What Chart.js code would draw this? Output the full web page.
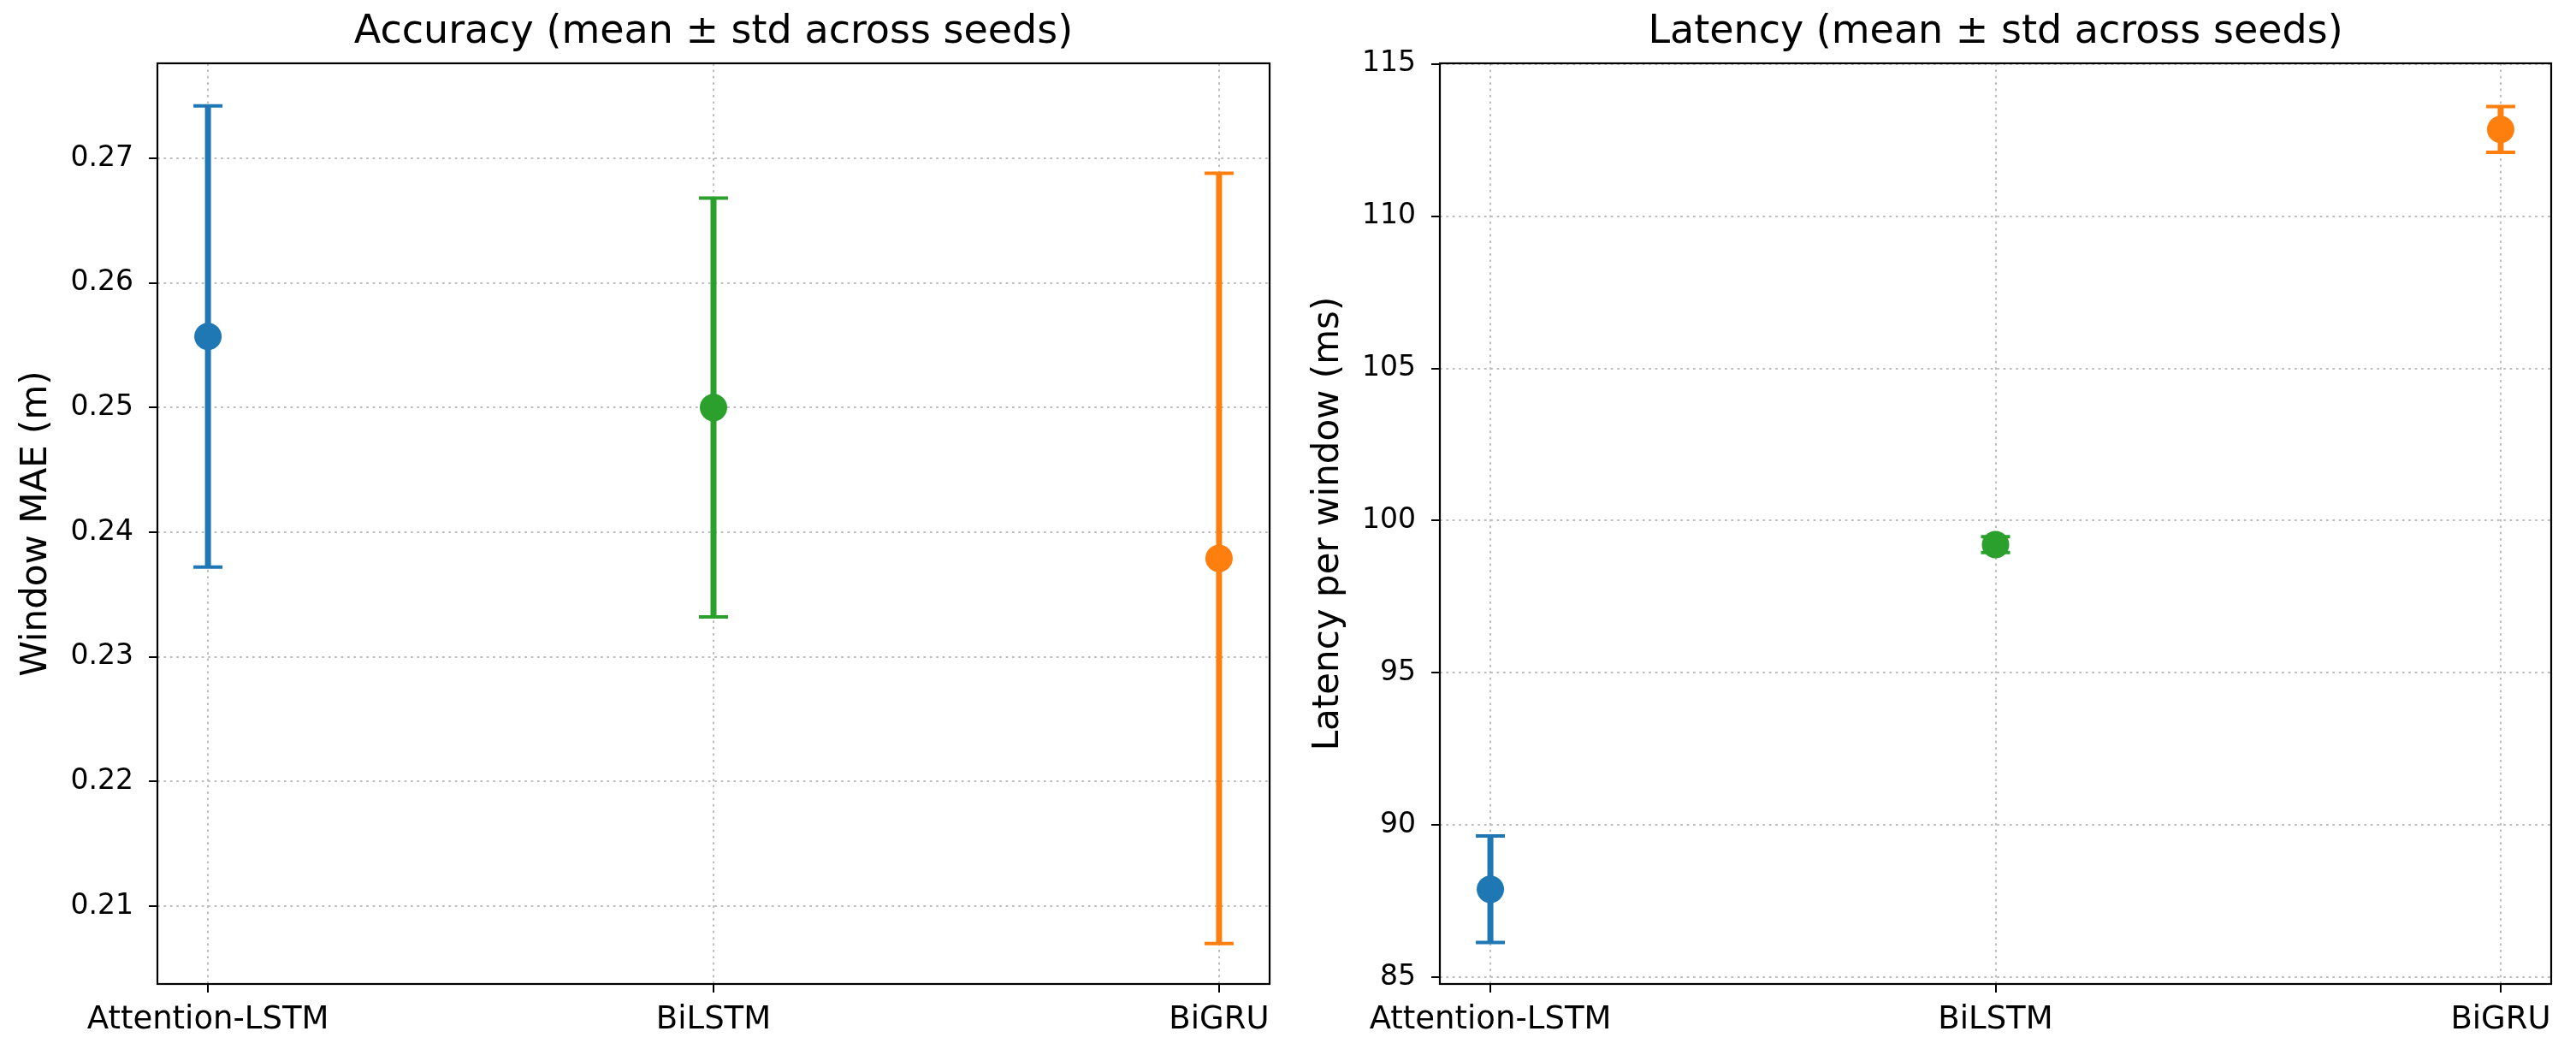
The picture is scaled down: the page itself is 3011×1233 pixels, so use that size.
<!DOCTYPE html>
<html>
<head>
<meta charset="utf-8">
<script src="https://cdn.jsdelivr.net/npm/chart.js@4.4.1/dist/chart.umd.min.js"></script>
<style>
  html, body { margin: 0; padding: 0; background: #fff; }
  .panel { position: absolute; top: 0; }
</style>
</head>
<body>
<div class="panel" style="left:0px;"><canvas id="accChart" width="1520" height="1233"></canvas></div>
<div class="panel" style="left:1520px;"><canvas id="latChart" width="1491" height="1233"></canvas></div>
<script>
const models = ['Attention-LSTM', 'BiLSTM', 'BiGRU'];
const modelColors = ['#1f77b4', '#2ca02c', '#ff7f0e'];

// window MAE (m)
const maeMean = [0.2557, 0.2500, 0.2379];
const maeStd = [0.0185, 0.0168, 0.0309];
const maeTicks = [0.21, 0.22, 0.23, 0.24, 0.25, 0.26, 0.27];

// latency per window (ms)
const latMean = [87.89, 99.21, 112.85];
const latStd = [1.75, 0.26, 0.75];
const latTicks = [85, 90, 95, 100, 105, 110, 115];

const FONT = 'DejaVu Sans';
Chart.defaults.font.family = FONT;
Chart.defaults.color = '#000';

// matplotlib-ish error bars, drawn under the markers
const errorBars = {
  id: 'errorBars',
  beforeDatasetsDraw(chart, args, opts) {
    var ctx = chart.ctx;
    var xs = chart.scales.x, ys = chart.scales.y;
    opts.mean.forEach(function(m, i) {
      var x = xs.getPixelForValue(i);
      var yTop = ys.getPixelForValue(m + opts.std[i]);
      var yBot = ys.getPixelForValue(m - opts.std[i]);
      ctx.save();
      ctx.strokeStyle = modelColors[i];
      ctx.lineWidth = 7;
      ctx.beginPath();
      ctx.moveTo(x, yTop);
      ctx.lineTo(x, yBot);
      ctx.stroke();
      ctx.lineWidth = 4;
      ctx.beginPath();
      ctx.moveTo(x - 17, yTop); ctx.lineTo(x + 17, yTop);
      ctx.moveTo(x - 17, yBot); ctx.lineTo(x + 17, yBot);
      ctx.stroke();
      ctx.restore();
    });
  }
};

// box around the plot area (all four spines)
const frame = {
  id: 'frame',
  afterDraw(chart) {
    var a = chart.chartArea, ctx = chart.ctx;
    ctx.save();
    ctx.strokeStyle = '#000';
    ctx.lineWidth = 2.2;
    ctx.strokeRect(a.left, a.top, a.right - a.left, a.bottom - a.top);
    ctx.restore();
  }
};

function makeChart(canvasId, opt) {
  var grid = {
    color: '#bdbdbd',
    lineWidth: 2,
    tickLength: 10,
    tickColor: '#000',
    tickWidth: 2,
    tickBorderDash: [],
    drawTicks: true
  };
  // in v4 the dash of the grid lines lives under border
  var border = {display: false, dash: [2.7, 4.7]};
  return new Chart(document.getElementById(canvasId), {
    type: 'scatter',
    data: {
      datasets: [{
        data: opt.mean.map(function(m, i) { return {x: i, y: m}; }),
        backgroundColor: modelColors,
        borderWidth: 0,
        pointRadius: 16,
        pointHoverRadius: 16
      }]
    },
    options: {
      responsive: false,
      devicePixelRatio: 1,
      animation: false,
      layout: {padding: {top: 0, left: 0, bottom: 0, right: opt.padRight}},
      plugins: {
        legend: {display: false},
        tooltip: {enabled: false},
        title: {
          display: true,
          text: opt.title,
          fullSize: false,
          font: {size: 46, weight: 'normal'},
          color: '#000',
          padding: {top: 10, bottom: 8.8}
        },
        errorBars: {mean: opt.mean, std: opt.std}
      },
      scales: {
        x: {
          type: 'linear',
          min: -0.1,
          max: 2.1,
          afterBuildTicks: function(s) { s.ticks = models.map(function(m, i) { return {value: i}; }); },
          afterFit: function(s) { s.height = 83; },
          ticks: {
            font: {size: 37},
            color: '#000',
            padding: 10,
            maxRotation: 0,
            autoSkip: false,
            callback: function(v) { return models[v]; }
          },
          grid: grid,
          border: border
        },
        y: {
          min: opt.min,
          max: opt.max,
          afterBuildTicks: function(s) { s.ticks = opt.ticks.map(function(v) { return {value: v}; }); },
          afterFit: function(s) { s.width = opt.yWidth; },
          ticks: {
            font: {size: 33},
            color: '#000',
            padding: 18,
            callback: opt.fmt
          },
          grid: grid,
          border: border,
          title: {
            display: true,
            text: opt.yTitle,
            font: {size: 42},
            color: '#000',
            padding: {top: opt.titlePad, bottom: 0}
          }
        }
      }
    },
    plugins: [errorBars, frame]
  });
}

makeChart('accChart', {
  title: 'Accuracy (mean ± std across seeds)',
  yTitle: 'Window MAE (m)',
  mean: maeMean, std: maeStd, ticks: maeTicks,
  min: 0.20375, max: 0.27762,
  fmt: function(v) { return v.toFixed(2); },
  yWidth: 184, padRight: 36, titlePad: 18
});

makeChart('latChart', {
  title: 'Latency (mean ± std across seeds)',
  yTitle: 'Latency per window (ms)',
  mean: latMean, std: latStd, ticks: latTicks,
  min: 84.78, max: 115.02,
  fmt: function(v) { return String(v); },
  yWidth: 163, padRight: 29, titlePad: 8
});
</script>
</body>
</html>
